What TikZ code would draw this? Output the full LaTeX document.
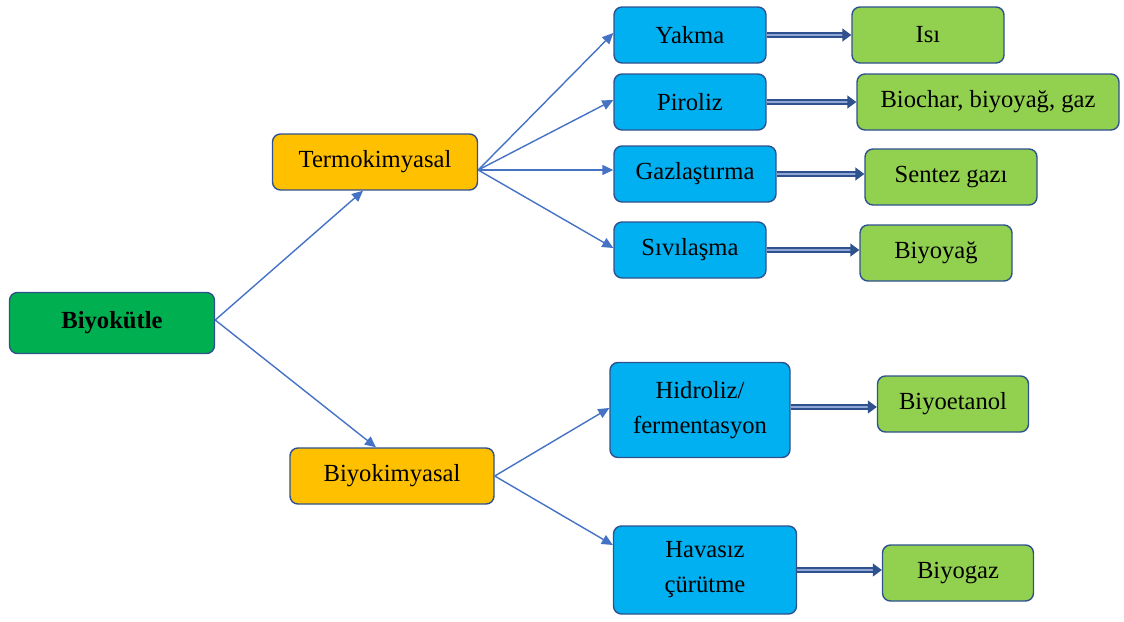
\documentclass[tikz,border=0pt]{standalone}
\usepackage{fontspec}
\setmainfont{Liberation Serif}
\usetikzlibrary{arrows.meta}

\definecolor{boxline}{HTML}{2F528F}
\definecolor{arrowblue}{HTML}{4472C4}
\definecolor{rootgreen}{HTML}{00B050}
\definecolor{midorange}{HTML}{FFC000}
\definecolor{procblue}{HTML}{00B0F0}
\definecolor{prodgreen}{HTML}{92D050}
\definecolor{dblfill}{HTML}{8FA6D6}

\begin{document}
\begin{tikzpicture}[x=1pt, y=-1pt,
		box/.style={draw=boxline, line width=1.4pt, rounded corners=8pt, align=center,
			inner sep=0pt, font=\fontsize{24.6}{35}\selectfont},
		root/.style={box, fill=rootgreen, font=\fontsize{24.6}{35}\selectfont\bfseries},
		route/.style={box, fill=midorange},
		proc/.style={box, fill=procblue},
		prod/.style={box, fill=prodgreen},
		link/.style={draw=arrowblue, line width=1.4pt, -{Triangle[length=11pt, width=10pt]}},
		dlink/.style={draw=boxline, line width=1.5pt, double=dblfill, double distance=2.5pt,
			-{Triangle[length=9pt, width=13pt, fill=boxline]}}]
		\useasboundingbox (0,0) rectangle (1124,621);
		
		% main branches
		\node[root]  (bio)   at (112,323) [minimum width=205pt, minimum height=61pt] {Biyokütle};
		\node[route] (termo) at (375,162) [minimum width=205pt, minimum height=56pt] {Termokimyasal};
		\node[route] (biyo)  at (392,476) [minimum width=204pt, minimum height=56pt] {Biyokimyasal};
		
		% thermochemical processes
		\node[proc] (yakma)   at (690,35)  [minimum width=152pt, minimum height=56pt] {Yakma};
		\node[proc] (piroliz) at (690,102) [minimum width=152pt, minimum height=56pt] {Piroliz};
		\node[proc] (gazlas)  at (695,174) [minimum width=162pt, minimum height=56pt] {Gazlaştırma};
		\node[proc] (sivilas) at (690,250) [minimum width=152pt, minimum height=56pt] {Sıvılaşma};
		
		% biochemical processes
		\node[proc] (hidro)   at (700,410) [minimum width=180pt, minimum height=95pt] {Hidroliz/\\fermentasyon};
		\node[proc] (havasiz) at (705,570) [minimum width=183pt, minimum height=88pt] {Havasız\\çürütme};
		
		% products
		\node[prod] (isi)      at (928,35)  [minimum width=152pt, minimum height=56pt] {Isı};
		\node[prod] (biochar)  at (988,102) [minimum width=262pt, minimum height=56pt] {Biochar, biyoyağ, gaz};
		\node[prod] (sentez)   at (951,177) [minimum width=172pt, minimum height=56pt] {Sentez gazı};
		\node[prod] (biyoyag)  at (936,253) [minimum width=152pt, minimum height=56pt] {Biyoyağ};
		\node[prod] (etanol)   at (953,404) [minimum width=151pt, minimum height=56pt] {Biyoetanol};
		\node[prod] (biyogaz)  at (958,573) [minimum width=151pt, minimum height=56pt] {Biyogaz};
		
		% y runs downwards, so a positive yshift moves up
		\coordinate (bioOut)   at ([yshift=3pt]bio.east);
		\coordinate (termoOut) at ([yshift=-8pt]termo.east);
		
		\draw[link] (bioOut) -- ([xshift=-12pt]termo.south);
		\draw[link] (bioOut) -- ([xshift=-16pt]biyo.north);
		
		\draw[link] (termoOut) -- ([yshift=2pt]yakma.west);
		\draw[link] (termoOut) -- ([yshift=2pt]piroliz.west);
		\draw[link] (termoOut) -- ([yshift=4pt]gazlas.west);
		\draw[link] (termoOut) -- ([yshift=2pt]sivilas.west);
		
		\draw[link] (biyo.east) -- ([yshift=2pt]hidro.west);
		\draw[link] (biyo.east) -- ([yshift=25pt]havasiz.west);
		
		\draw[dlink] (yakma.east)   -- (yakma.east -| isi.west);
		\draw[dlink] (piroliz.east) -- (piroliz.east -| biochar.west);
		\draw[dlink] (gazlas.east)  -- (gazlas.east -| sentez.west);
		\draw[dlink] (sivilas.east) -- (sivilas.east -| biyoyag.west);
		\draw[dlink] ([yshift=3pt]hidro.east) -- ([yshift=3pt]hidro.east -| etanol.west);
		\draw[dlink] (havasiz.east) -- (havasiz.east -| biyogaz.west);
		
	\end{tikzpicture}
\end{document}
